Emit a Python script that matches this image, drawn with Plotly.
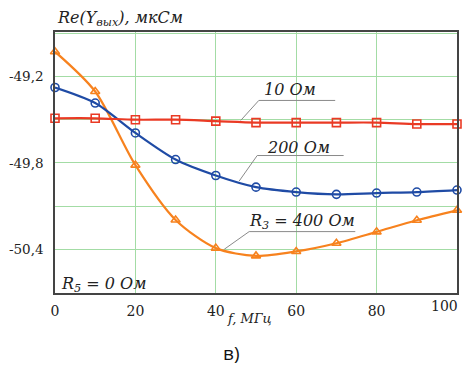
import plotly.graph_objects as go

f_mhz = [0, 10, 20, 30, 40, 50, 60, 70, 80, 90, 100]
re_10 = [-49.49, -49.49, -49.50, -49.50, -49.51, -49.52, -49.52, -49.52, -49.52, -49.53, -49.53]
re_200 = [-49.276, -49.384, -49.592, -49.777, -49.888, -49.969, -50.003, -50.019, -50.010, -50.003, -49.989]
re_400 = [-49.027, -49.304, -49.816, -50.197, -50.393, -50.447, -50.416, -50.359, -50.280, -50.199, -50.130]

y_ticks = [-49.2, -49.8, -50.4]
y_text = ["-49,2", "-49,8", "-50,4"]
y_minor = [-48.9, -49.5, -50.1, -50.7]
x_ticks = [0, 20, 40, 60, 80]
x_text = ["0", "20", "40", "60", "80"]

SERIF = "DejaVu Serif"
TXT = "#222222"
GRID = "#A3DCA5"
fig = go.Figure()

series = [
    (re_400, "#F7821E", "triangle-up-open"),
    (re_200, "#1F4BA5", "circle-open"),
    (re_10, "#EA3A24", "square-open"),
]
for ys, col, sym in series:
    fig.add_trace(go.Scatter(
        x=f_mhz, y=ys, mode="lines+markers",
        line=dict(color=col, width=2.2, shape="spline", smoothing=0.8),
        marker=dict(symbol=sym, size=8, color=col, line=dict(width=1.6, color=col)),
        showlegend=False, cliponaxis=False,
    ))

leaders = [
    [(46.2, -49.505), (50.7, -49.366), (69.7, -49.366)],
    [(45.8, -49.927), (50.3, -49.749), (71.8, -49.749)],
    [(42.1, -50.401), (48.3, -50.278), (74.7, -50.278)],
]
for pts in leaders:
    for (x0, y0), (x1, y1) in zip(pts[:-1], pts[1:]):
        fig.add_shape(type="line", x0=x0, y0=y0, x1=x1, y1=y1,
                      line=dict(color="#8a8a8a", width=1))

ann_font = dict(family=SERIF, size=16, color=TXT)
labels = [
    (58.4, -49.287, "<i>10 Ом</i>", "center"),
    (60.6, -49.696, "<i>200 Ом</i>", "center"),
    (61.4, -50.211, "<i>R<sub>3</sub> = 400 Ом</i>", "center"),
    (1.0, -50.643, "<i>R<sub>5</sub> = 0 Ом</i>", "left"),
]
for x, y, t, xa in labels:
    fig.add_annotation(x=x, y=y, text=t, showarrow=False, xanchor=xa,
                       yanchor="middle", font=ann_font)

fig.add_annotation(xref="paper", yref="paper", x=0.0, y=1.0, yshift=14,
                   text="<i>Re(Y<sub>вых</sub>), мкСм</i>", showarrow=False,
                   xanchor="left", yanchor="middle",
                   font=dict(family=SERIF, size=16, color=TXT))
fig.add_annotation(xref="paper", yref="paper", x=0.485, y=0, yshift=-25,
                   text="<i>f, МГц</i>", showarrow=False, xanchor="center",
                   yanchor="middle", font=dict(family=SERIF, size=13, color=TXT))
fig.add_annotation(xref="paper", yref="paper", x=0.97, y=0, yshift=-13,
                   text="100", showarrow=False, xanchor="center",
                   yanchor="middle", font=dict(family=SERIF, size=14, color=TXT))
fig.add_annotation(xref="paper", yref="paper", x=0.44, y=0, yshift=-60,
                   text="в)", showarrow=False, xanchor="center", yanchor="middle",
                   font=dict(family="Open Sans", size=19, color="#111111"))

fig.update_xaxes(range=[0, 100], tickvals=x_ticks, ticktext=x_text,
                 showgrid=True, gridcolor=GRID, gridwidth=1.2,
                 showline=True, linecolor="#444444", linewidth=1.5, mirror=True,
                 zeroline=False, ticks="", ticklabelstandoff=4,
                 tickfont=dict(family=SERIF, size=14, color=TXT))
fig.update_yaxes(range=[-50.705, -48.89], tickvals=y_ticks, ticktext=y_text,
                 showgrid=True, gridcolor=GRID, gridwidth=1.2,
                 minor=dict(tickvals=y_minor, showgrid=True, gridcolor=GRID,
                            gridwidth=1.2, ticks=""),
                 showline=True, linecolor="#444444", linewidth=1.5, mirror=True,
                 zeroline=False, ticks="", ticklabelstandoff=7,
                 tickfont=dict(family=SERIF, size=13.5, color=TXT))

fig.update_layout(width=468, height=372,
                  margin=dict(l=55, r=9, t=32, b=79),
                  plot_bgcolor="white", paper_bgcolor="white")

fig.write_html("out.html", config={"displayModeBar": False},
               post_script="document.body.style.margin='0';")
